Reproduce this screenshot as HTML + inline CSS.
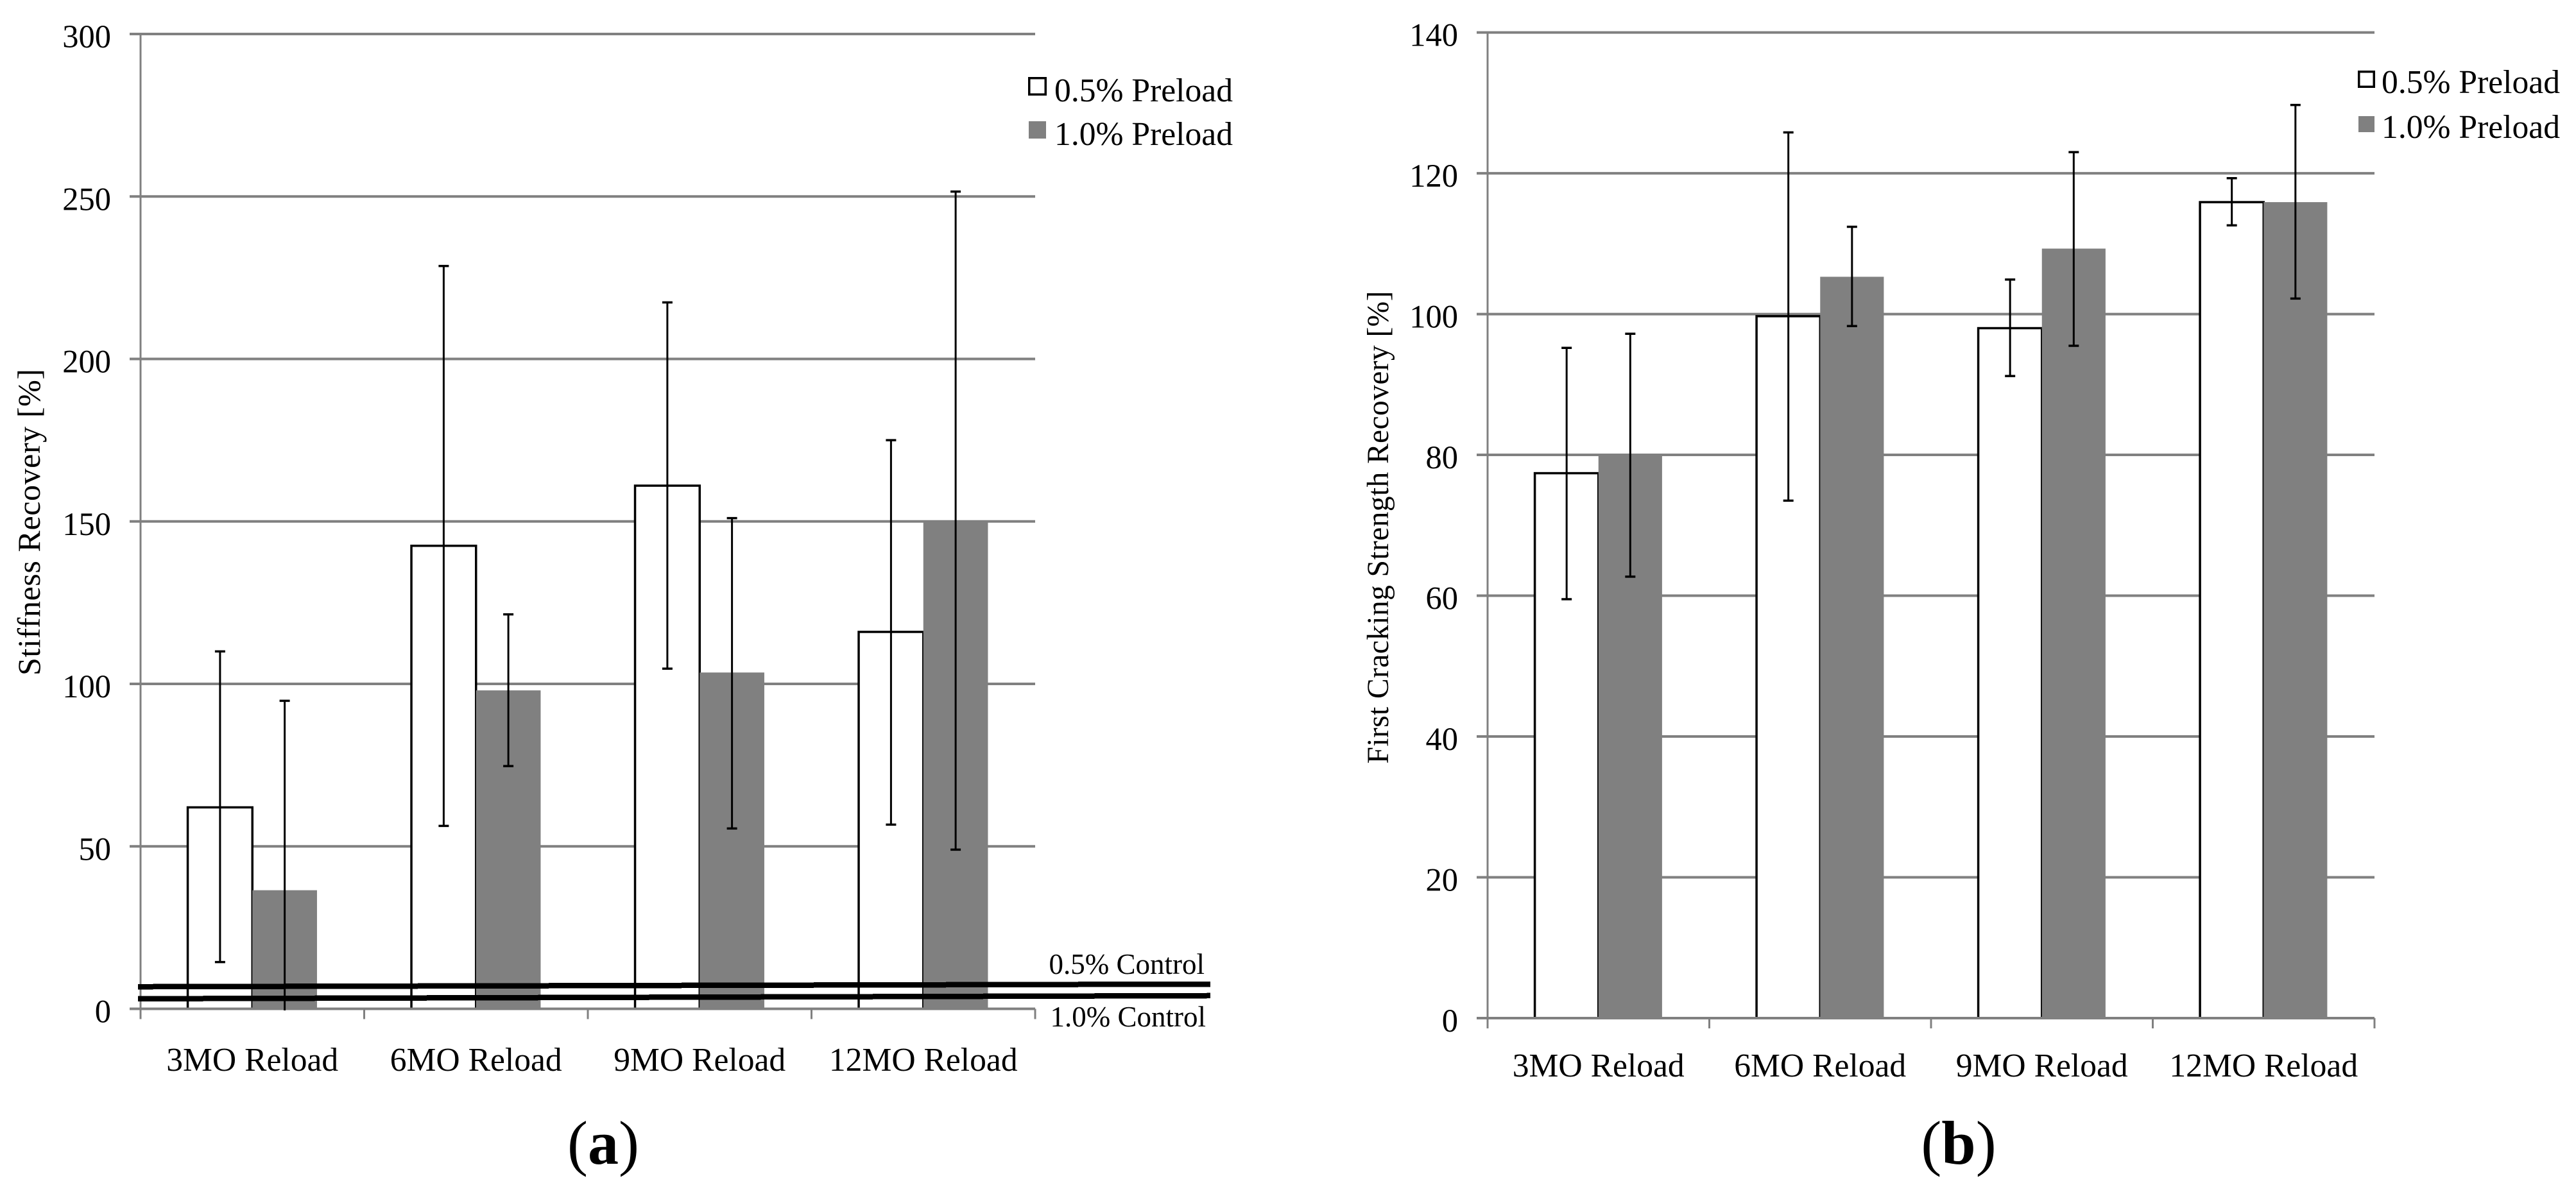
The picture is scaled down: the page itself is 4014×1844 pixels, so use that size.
<!DOCTYPE html>
<html lang="en">
<head>
<meta charset="utf-8">
<title>Stiffness and First Cracking Strength Recovery</title>
<style>
  html, body { margin: 0; padding: 0; background: #fff; }
  svg { display: block; }
  text { font-family: "Liberation Serif", "Times New Roman", serif; fill: #000; }
</style>
</head>
<body>
<svg id="figure" xmlns="http://www.w3.org/2000/svg" width="4014" height="1844" viewBox="0 0 4014 1844">
  <rect x="0" y="0" width="4014" height="1844" fill="#ffffff"/>
  <g id="panel-a"></g>
  <g id="panel-b"></g>
  <text x="940" y="1814" font-size="96" text-anchor="middle">(<tspan font-weight="bold">a</tspan>)</text>
  <text x="3052" y="1814" font-size="96" text-anchor="middle">(<tspan font-weight="bold">b</tspan>)</text>
</svg>
<script>
const categories = ["3MO Reload", "6MO Reload", "9MO Reload", "12MO Reload"];
const seriesNames = ["0.5% Preload", "1.0% Preload"];

const stiffnessTicks = [0, 50, 100, 150, 200, 250, 300];
const stiffnessLow = [62, 142.5, 161, 116];
const stiffnessHigh = [36.5, 98, 103.5, 150];
const stiffnessLowErrUp = [110, 228.6, 217.4, 175];
const stiffnessLowErrDown = [14.4, 56.3, 104.7, 56.7];
const stiffnessHighErrUp = [94.8, 121.4, 151, 251.5];
const stiffnessHighErrDown = [-0.5, 74.7, 55.5, 49];
const control05 = [6.8, 7.6];
const control10 = [3.1, 4.05];

const crackingTicks = [0, 20, 40, 60, 80, 100, 120, 140];
const crackingLow = [77.4, 99.7, 98, 115.9];
const crackingHigh = [80, 105.3, 109.3, 115.9];
const crackingLowErrUp = [95.2, 125.8, 104.9, 119.3];
const crackingLowErrDown = [59.5, 73.5, 91.2, 112.6];
const crackingHighErrUp = [97.2, 112.4, 123, 129.7];
const crackingHighErrDown = [62.7, 98.3, 95.5, 102.2];

const NS = "http://www.w3.org/2000/svg";
const GREY = "#808080";

function make(parent, tag, attrs, txt) {
  const node = document.createElementNS(NS, tag);
  for (const k in attrs) node.setAttribute(k, attrs[k]);
  if (txt !== undefined) node.textContent = txt;
  parent.appendChild(node);
  return node;
}

function drawChart(root, geo, ticks, vals1, vals2, up1, down1, up2, down2, yTitle) {
  const yMax = ticks[ticks.length - 1];
  const yOf = v => geo.y0 - (v / yMax) * (geo.y0 - geo.yTop);
  const catW = (geo.xRight - geo.xLeft) / categories.length;
  const barW = catW * geo.barFrac;
  const catCenter = i => geo.xLeft + catW * (i + 0.5);

  ticks.forEach(t => {
    const grid = make(root, "line", { x1: geo.xLeft - 17, x2: geo.xRight, y1: yOf(t), y2: yOf(t), stroke: GREY, "stroke-width": 4 });
    
    
    const lab = make(root, "text", { x: geo.xLeft - 46, y: yOf(t) + 21, "font-size": 50.5, "text-anchor": "end" }, String(t));
    
    
  });

  const yAxis = make(root, "line", { x1: geo.xLeft, x2: geo.xLeft, y1: geo.yTop, y2: geo.y0 + 16, stroke: GREY, "stroke-width": 3 });
  
  

  for (let i = 0; i <= categories.length; i++) {
    const tx = geo.xLeft + catW * i;
    const tick = make(root, "line", { x1: tx, x2: tx, y1: geo.y0, y2: geo.y0 + 16, stroke: GREY, "stroke-width": 3 });
    
    
  }

  const title = make(root, "text", { transform: "translate(" + geo.titleX + " " + geo.titleY + ") rotate(-90)", "font-size": geo.titleSize, "text-anchor": "middle", textLength: geo.titleLen, lengthAdjust: "spacing" }, yTitle);
  
  

  categories.forEach((c, i) => {
    const lab = make(root, "text", { x: catCenter(i), y: geo.labelY, "font-size": 51.6, "text-anchor": "middle" }, c);
    
    

    const white = make(root, "rect", { x: catCenter(i) - barW, y: yOf(vals1[i]), width: barW, height: geo.y0 - yOf(vals1[i]), fill: "#ffffff", stroke: "#000000", "stroke-width": 3.5 });
    
    
  });

  categories.forEach((c, i) => {
    const grey = make(root, "rect", { x: catCenter(i), y: yOf(vals2[i]), width: barW, height: geo.y0 - yOf(vals2[i]), fill: GREY });
    
    
  });

  const baseAxis = make(root, "line", { x1: geo.xLeft - 17, x2: geo.xRight, y1: geo.y0, y2: geo.y0, stroke: GREY, "stroke-width": 4 });
  
  

  const drawError = (cx, hi, lo, name) => {
    const g = make(root, "g", {});
    
    
    make(g, "line", { x1: cx, x2: cx, y1: yOf(hi), y2: yOf(lo), stroke: "#000", "stroke-width": 3 });
    make(g, "line", { x1: cx - 8, x2: cx + 8, y1: yOf(hi), y2: yOf(hi), stroke: "#000", "stroke-width": 3.5 });
    if (lo >= 0) make(g, "line", { x1: cx - 8, x2: cx + 8, y1: yOf(lo), y2: yOf(lo), stroke: "#000", "stroke-width": 3.5 });
  };
  categories.forEach((c, i) => {
    drawError(catCenter(i) - barW / 2, up1[i], down1[i], "error-bar-preload-0-5-" + i);
    drawError(catCenter(i) + barW / 2, up2[i], down2[i], "error-bar-preload-1-0-" + i);
  });

  const sw1 = make(root, "rect", { x: geo.legendX + 1.75, y: geo.legendY1 + 1.75, width: geo.swatchW - 3.5, height: geo.swatchH - 3.5, fill: "#fff", stroke: "#000", "stroke-width": 3.5 });
  
  
  const sw2 = make(root, "rect", { x: geo.legendX + 1, y: geo.legendY2, width: geo.swatchW - 2, height: geo.swatchH - 2, fill: GREY });
  
  
  const lt1 = make(root, "text", { x: geo.legendTextX, y: geo.legendBase1, "font-size": 51.6, "text-anchor": "end" }, seriesNames[0]);
  
  
  const lt2 = make(root, "text", { x: geo.legendTextX, y: geo.legendBase2, "font-size": 51.6, "text-anchor": "end" }, seriesNames[1]);
  
  

  return yOf;
}

const yStiff = drawChart(document.getElementById("panel-a"), {
  xLeft: 219, xRight: 1613, y0: 1572.5, yTop: 53, barFrac: 0.289,
  titleX: 62, titleY: 814, titleSize: 50, titleLen: 478, labelY: 1669,
  legendX: 1602, legendY1: 120, legendY2: 189, swatchW: 29, swatchH: 29,
  legendTextX: 1921, legendBase1: 158, legendBase2: 226
}, stiffnessTicks, stiffnessLow, stiffnessHigh, stiffnessLowErrUp, stiffnessLowErrDown, stiffnessHighErrUp, stiffnessHighErrDown, "Stiffness Recovery [%]");

drawChart(document.getElementById("panel-b"), {
  xLeft: 2318, xRight: 3700, y0: 1587, yTop: 50.6, barFrac: 0.287,
  titleX: 2163, titleY: 822, titleSize: 47.5, titleLen: 737, labelY: 1678,
  legendX: 3674, legendY1: 110, legendY2: 181, swatchW: 27, swatchH: 27,
  legendTextX: 3989, legendBase1: 145, legendBase2: 215
}, crackingTicks, crackingLow, crackingHigh, crackingLowErrUp, crackingLowErrDown, crackingHighErrUp, crackingHighErrDown, "First Cracking Strength Recovery [%]");

const panelA = document.getElementById("panel-a");
const ctrl05 = make(panelA, "line", { x1: 215, x2: 1886, y1: yStiff(control05[0]), y2: yStiff(control05[1]), stroke: "#000", "stroke-width": 8.5, "shape-rendering": "crispEdges" });


const ctrl10 = make(panelA, "line", { x1: 215, x2: 1886, y1: yStiff(control10[0]), y2: yStiff(control10[1]), stroke: "#000", "stroke-width": 8.5, "shape-rendering": "crispEdges" });


const ctrlLab05 = make(panelA, "text", { x: 1877, y: 1518, "font-size": 45, "text-anchor": "end" }, "0.5% Control");


const ctrlLab10 = make(panelA, "text", { x: 1879, y: 1600, "font-size": 45, "text-anchor": "end" }, "1.0% Control");


</script>
</body>
</html>
